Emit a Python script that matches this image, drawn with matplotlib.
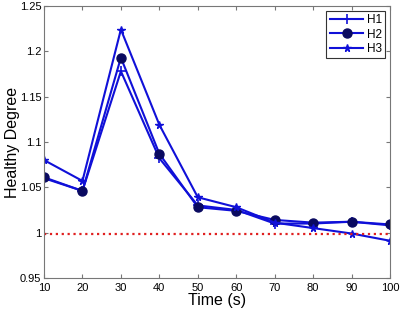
import matplotlib
matplotlib.use("Agg")
import matplotlib.pyplot as plt

plt.rcParams['font.family'] = ['Liberation Sans', 'DejaVu Sans']

time = [10, 20, 30, 40, 50, 60, 70, 80, 90, 100]
h1 = [1.060, 1.046, 1.178, 1.082, 1.030, 1.025, 1.010, 1.010, 1.012, 1.008]
h2 = [1.061, 1.046, 1.193, 1.087, 1.028, 1.024, 1.014, 1.011, 1.012, 1.009]
h3 = [1.080, 1.057, 1.224, 1.119, 1.039, 1.028, 1.011, 1.005, 0.999, 0.991]
threshold = 0.999
xticks = [10, 20, 30, 40, 50, 60, 70, 80, 90, 100]
yticks = [0.95, 1.0, 1.05, 1.1, 1.15, 1.2, 1.25]
yticklabels = ['0.95', '1', '1.05', '1.1', '1.15', '1.2', '1.25']

fig = plt.figure(figsize=(4.0, 3.13), dpi=100)
ax = fig.add_axes([0.11, 0.112, 0.865, 0.869])

blue = '#1010d8'
ax.plot(time, h1, color=blue, lw=1.5, marker='+', ms=7, mew=1.2, label='H1')
ax.plot(time, h2, color=blue, lw=1.5, marker='o', ms=6.5, mfc='#0a0a60', mec='#0a0a60', label='H2')
ax.plot(time, h3, color=blue, lw=1.5, marker='*', ms=5.5, mfc=blue, mec=blue, label='H3')
ax.axhline(threshold, color='#e02020', lw=1.6, ls=':')

ax.set_xlim(10, 100)
ax.set_ylim(0.95, 1.25)
ax.set_xticks(xticks)
ax.set_yticks(yticks)
ax.set_yticklabels(yticklabels)
ax.tick_params(direction='in', top=True, right=True, labelsize=8, length=3, color='#777777')
ax.tick_params(axis='x', pad=4)
ax.tick_params(axis='y', pad=2)
for s in ax.spines.values():
    s.set_color('#777777')
ax.set_xlabel('Time (s)', fontsize=11.5)
ax.set_ylabel('Healthy Degree', fontsize=11.5)
ax.yaxis.set_label_coords(-0.07, 0.5)
ax.xaxis.set_label_coords(0.5, -0.055)

leg = ax.legend(loc='upper right', fontsize=8.5, fancybox=False, edgecolor='#333333',
                framealpha=1, handlelength=2.8, borderaxespad=0.4, labelspacing=0.2,
                handletextpad=0.3, borderpad=0.3)
leg.get_frame().set_linewidth(0.8)

fig.savefig('out.png', dpi=100)
